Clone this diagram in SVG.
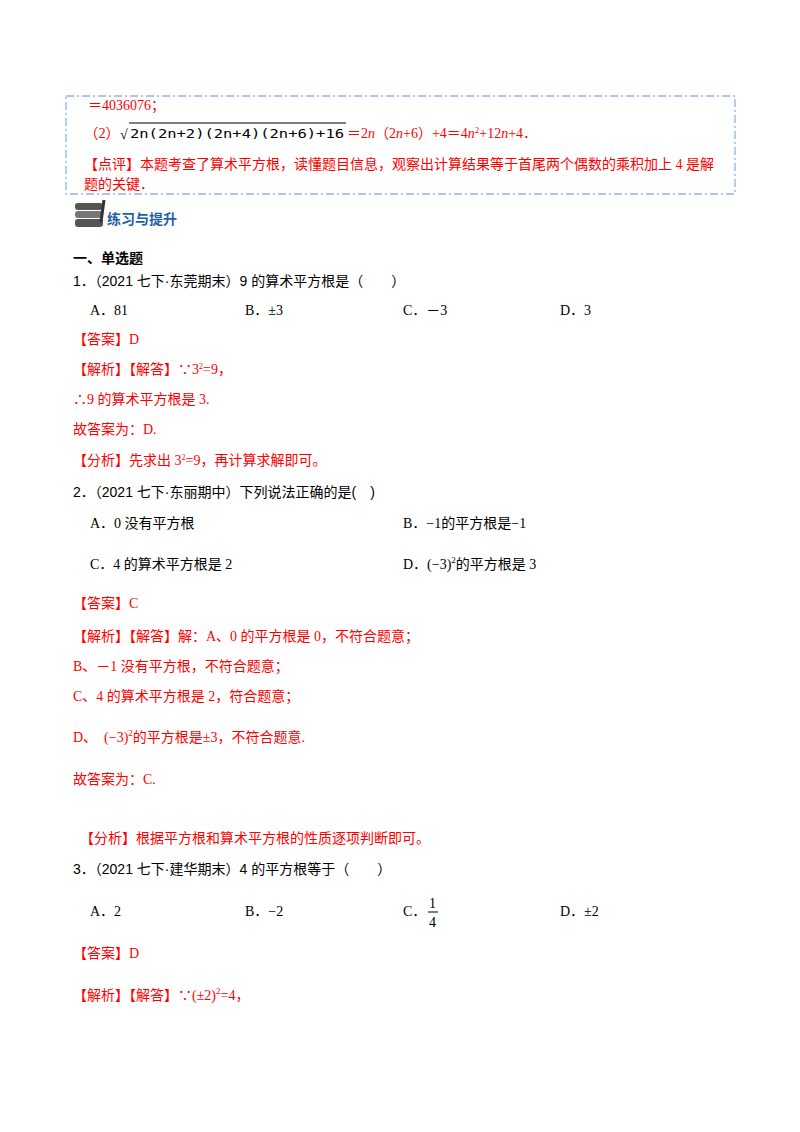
<svg xmlns="http://www.w3.org/2000/svg" width="800" height="1132" viewBox="0 0 800 1132">
<style>
text{font-family:"Liberation Serif","Noto Sans CJK SC",serif;font-size:14px;fill:#000}
.r{fill:#ff0000}
.s{font-family:"Liberation Sans","Noto Sans CJK SC",sans-serif}
.b{font-weight:bold}
.m{font-family:"DejaVu Sans Mono","Noto Sans CJK SC",monospace;font-size:12px}
</style>
<rect width="800" height="1132" fill="#fff"/>
<rect x="66" y="96" width="669" height="98" fill="none" stroke="#8fb4e3" stroke-width="1.3" stroke-dasharray="8,3,2,3"/>
<g id="box">
<text class="r" x="88" y="110">＝4036076；</text>
<text class="r" x="84" y="138" textLength="36" lengthAdjust="spacingAndGlyphs">（2）</text>
<text x="120" y="139" font-size="17">√</text>
<line x1="129" y1="123" x2="346" y2="123" stroke="#000" stroke-width="1"/>
<text class="m" x="130" y="138" textLength="214" lengthAdjust="spacingAndGlyphs">2n(2n+2)(2n+4)(2n+6)+16</text>
<text class="r" x="347" y="138">＝2<tspan font-style="italic">n</tspan>（2<tspan font-style="italic">n</tspan>+6）+4＝4<tspan font-style="italic">n</tspan><tspan font-size="9" dy="-5">2</tspan><tspan dy="5">+12</tspan><tspan font-style="italic">n</tspan>+4．</text>
<text class="r" x="84" y="169">【点评】本题考查了算术平方根，读懂题目信息，观察出计算结果等于首尾两个偶数的乘积加上 4 是解</text>
<text class="r" x="84" y="189">题的关键．</text>
</g>
<g id="icon">
<rect x="75" y="203" width="28" height="7" rx="3" fill="#555"/>
<rect x="75" y="211" width="28" height="7" rx="3" fill="#777"/>
<rect x="75" y="219" width="28" height="8" rx="3" fill="#555"/>
<line x1="104" y1="200" x2="101" y2="222" stroke="#333" stroke-width="3"/>
<text class="s b" x="107" y="224" font-size="11" style="fill:#1f5fa8">练习与提升</text>
</g>
<text class="s b" x="73" y="263" font-size="15">一、单选题</text>
<text class="s" x="73" y="286">1．（2021 七下·东莞期末）9 的算术平方根是（　　）</text>
<text x="90" y="315">A．81</text><text x="245" y="315">B．±3</text><text x="403" y="315">C．－3</text><text x="560" y="315">D．3</text>
<text class="r" x="73" y="344">【答案】D</text>
<text class="r" x="73" y="374">【解析】【解答】∵3<tspan font-size="8" dy="-5">2</tspan><tspan dy="5">=9，</tspan></text>
<text class="r" x="73" y="404">∴9 的算术平方根是 3.</text>
<text class="r" x="73" y="434">故答案为：D.</text>
<text class="r" x="73" y="465">【分析】先求出 3<tspan font-size="8" dy="-5">2</tspan><tspan dy="5">=9，再计算求解即可。</tspan></text>
<text class="s" x="73" y="497">2．（2021 七下·东丽期中）下列说法正确的是(　)</text>
<text x="90" y="528">A．0 没有平方根</text><text x="403" y="528">B．−1的平方根是−1</text>
<text x="90" y="569">C．4 的算术平方根是 2</text><text x="403" y="569">D．(−3)<tspan font-size="9" dy="-6">2</tspan><tspan dy="6">的平方根是 3</tspan></text>
<text class="r" x="73" y="608">【答案】C</text>
<text class="r" x="73" y="641">【解析】【解答】解：A、0 的平方根是 0，不符合题意；</text>
<text class="r" x="73" y="671">B、－1 没有平方根，不符合题意；</text>
<text class="r" x="73" y="701">C、4 的算术平方根是 2，符合题意；</text>
<text class="r" x="73" y="742">D、　(−3)<tspan font-size="9" dy="-6">2</tspan><tspan dy="6">的平方根是±3，不符合题意.</tspan></text>
<text class="r" x="73" y="784">故答案为：C.</text>
<text class="r" x="80" y="843">【分析】根据平方根和算术平方根的性质逐项判断即可。</text>
<text class="s" x="73" y="874">3．（2021 七下·建华期末）4 的平方根等于（　　）</text>
<text x="90" y="916">A．2</text><text x="245" y="916">B．−2</text><text x="403" y="916">C．</text>
<text x="429" y="908" font-size="13">1</text><line x1="428" y1="912" x2="438" y2="912" stroke="#000"/><text x="429" y="927" font-size="13">4</text>
<text x="560" y="916">D．±2</text>
<text class="r" x="73" y="958">【答案】D</text>
<text class="r" x="73" y="1000">【解析】【解答】∵(±2)<tspan font-size="9" dy="-6">2</tspan><tspan dy="6">=4，</tspan></text>
</svg>
